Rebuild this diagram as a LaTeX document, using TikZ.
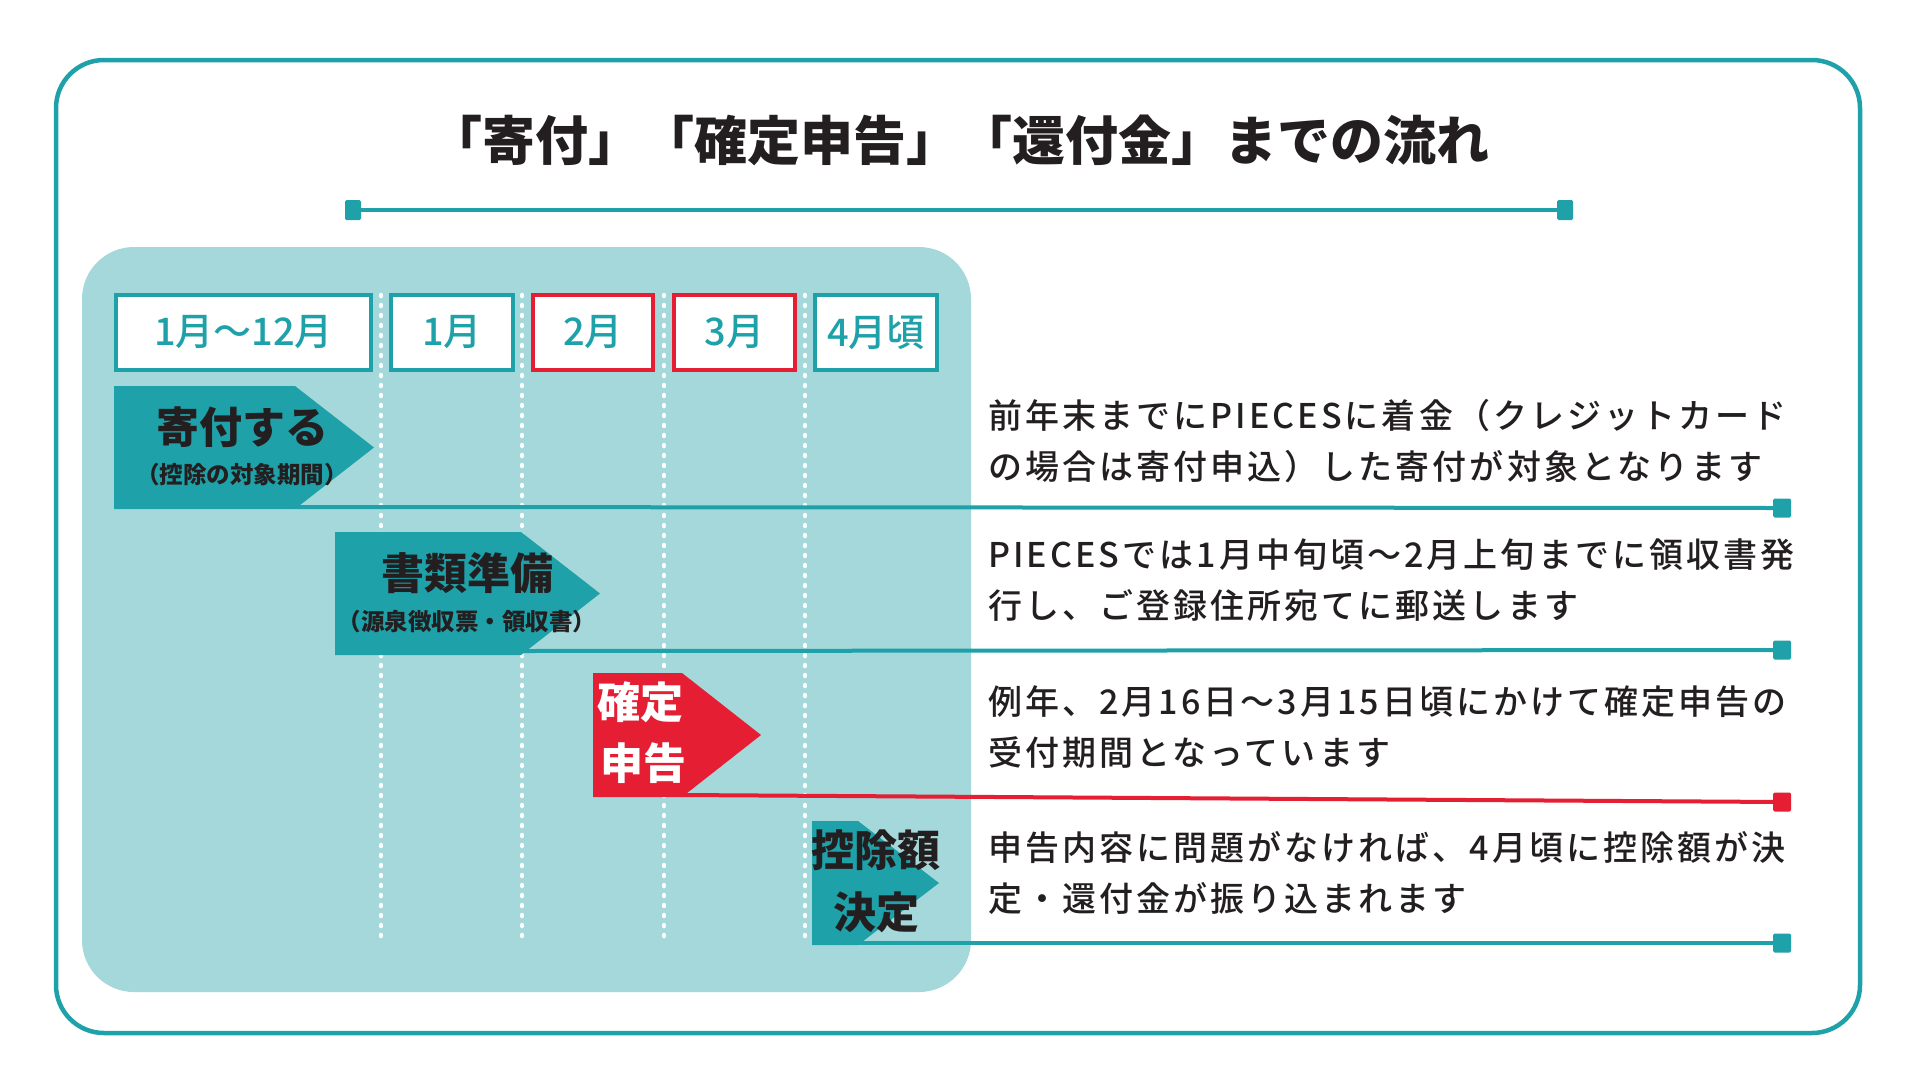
\documentclass[tikz,border=0pt]{standalone}
\usepackage{fontspec}
\setmainfont{Noto Sans CJK JP}
\IfFontExistsTF{Noto Sans CJK JP Medium}{\newfontfamily\bodyjp{Noto Sans CJK JP Medium}[LetterSpace=9]\newfontfamily\midjp{Noto Sans CJK JP Medium}}{\newfontfamily\bodyjp{Noto Sans CJK JP}[LetterSpace=9]\newfontfamily\midjp{Noto Sans CJK JP}}
\usetikzlibrary{positioning}
\definecolor{flowteal}{HTML}{1EA1A9}
\definecolor{flowpale}{HTML}{A4D8DA}
\definecolor{flowred}{HTML}{E61E33}
\definecolor{flowink}{HTML}{231F20}
\begin{document}
\begin{tikzpicture}[x=1pt,y=-1pt,every node/.style={inner sep=0pt,text=flowink},
  monthbox/.style={draw=#1,line width=4pt,fill=white,minimum height=75pt,text=flowteal,font=\midjp\fontsize{38}{40}\selectfont},
  phasetitle/.style={font=\fontsize{43}{48}\selectfont\bfseries},
  phasenote/.style={font=\fontsize{23.5}{26}\selectfont\bfseries},
  endmark/.style={fill=#1,minimum width=18pt,minimum height=19pt,rounded corners=1.5pt},
  guide/.style={draw=white,line width=4.5pt,line cap=round,dash pattern=on 1pt off 9pt},
  bar/.style={draw=#1,line width=4pt},
  memo/.style={anchor=west,align=left,font=\bodyjp\fontsize{34}{51}\selectfont}]
\useasboundingbox (0,0) rectangle (1920,1080); \fill[white] (0,0) rectangle (1920,1080);
\draw[flowteal,line width=4.5pt,rounded corners=48pt] (56,60) rectangle (1860,1033);
\node[font=\fontsize{53}{60}\selectfont\bfseries] (title) at (959,140) {「寄付」「確定申告」「還付金」までの流れ};
\node[endmark=flowteal,minimum width=16pt,minimum height=20pt] (ruleL) at (353,210) {}; \node[endmark=flowteal,minimum width=16pt,minimum height=20pt] (ruleR) at (1565,210) {};
\draw[bar=flowteal,line width=4.5pt] (ruleL) -- (ruleR);
\fill[flowpale,rounded corners=52pt] (82,247) rectangle (971,992);
\foreach \gx in {381,522,664,805} \draw[guide] (\gx,295) -- (\gx,945);
\node[monthbox=flowteal,minimum width=255pt] (mAll) at (243.5,332.5) {1月～12月};
\node[monthbox=flowteal,minimum width=122pt] (mJan) at (452,332.5) {1月};
\node[monthbox=flowred,minimum width=120pt] (mFeb) at (593,332.5) {2月};
\node[monthbox=flowred,minimum width=121pt] (mMar) at (734.5,332.5) {3月};
\node[monthbox=flowteal,minimum width=122pt] (mApr) at (876,332.5) {4月頃};
\fill[flowteal] (114,386) -- (295,386) -- (374,447.5) -- (295,509) -- (114,509) -- cycle;
\fill[flowteal] (335,532) -- (521,532) -- (600,593.5) -- (521,655) -- (335,655) -- cycle;
\fill[flowred] (593,673) -- (682,673) -- (761,735) -- (682,797) -- (593,797) -- cycle;
\fill[flowteal] (812,821) -- (858,821) -- (939,883) -- (858,945) -- (812,945) -- cycle;
\coordinate (give) at (295,507); \coordinate (docs) at (521,651); \coordinate (file) at (682,795); \coordinate (fix) at (858,943);
\node[endmark=flowteal] (giveEnd) at (1782,508) {}; \node[endmark=flowteal] (docsEnd) at (1782,650) {};
\node[endmark=flowred] (fileEnd) at (1782,802) {}; \node[endmark=flowteal] (fixEnd) at (1782,943) {};
\draw[bar=flowteal] (give) -- (giveEnd); \draw[bar=flowteal] (docs) -- (docsEnd); \draw[bar=flowred] (file) -- (fileEnd); \draw[bar=flowteal] (fix) -- (fixEnd);
\node[phasetitle] (giveT) at (242,427) {寄付する}; \node[phasenote] (giveN) at (242,475) {（控除の対象期間）};
\node[phasetitle] (docsT) at (467,573) {書類準備}; \node[phasenote] (docsN) at (467,622) {（源泉徴収票・領収書）};
\node[phasetitle,text=white,anchor=west] (fileT) at (597,702) {確定}; \node[phasetitle,text=white,anchor=west] (fileB) at (600,763) {申告};
\node[phasetitle] (fixT) at (876,850) {控除額}; \node[phasetitle] (fixB) at (876,912) {決定};
\node[memo] (giveM) at (988,441.5) {前年末までにPIECESに着金（クレジットカード\\の場合は寄付申込）した寄付が対象となります};
\node[memo] (docsM) at (988,580.5) {PIECESでは1月中旬頃～2月上旬までに領収書発\\行し、ご登録住所宛てに郵送します};
\node[memo] (fileM) at (988,727) {例年、2月16日～3月15日頃にかけて確定申告の\\受付期間となっています};
\node[memo] (fixM) at (988,872.5) {申告内容に問題がなければ、4月頃に控除額が決\\定・還付金が振り込まれます};
\end{tikzpicture}
\end{document}
